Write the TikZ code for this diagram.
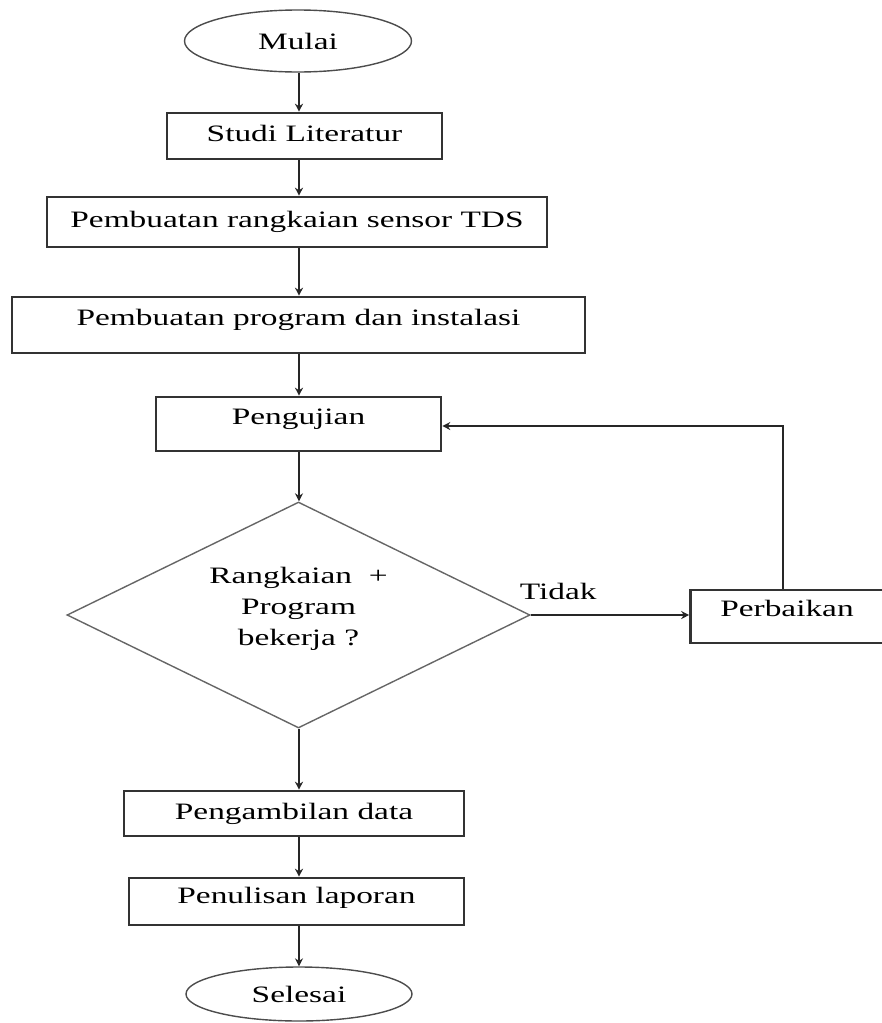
\documentclass[tikz,border=0pt]{standalone}
\usepackage{fontspec}
\setmainfont{Liberation Serif}[FakeStretch=1.42]
\usetikzlibrary{shapes.geometric,arrows.meta}

\begin{document}
\begin{tikzpicture}[
            x=1pt, y=-1pt,
            every node/.style={font=\fontsize{23.5}{31}\selectfont, inner sep=0pt},
            proses/.style={rectangle, draw=black!80, line width=2.6pt, text height=16pt, text depth=5pt},
            terminal/.style={ellipse, draw=black!70, line width=1.4pt},
            keputusan/.style={diamond, aspect=2, align=center, draw=black!60, line width=1.4pt},
            alur/.style={draw=black!85, line width=2.6pt, -{Stealth[length=8pt,width=8pt]}},
            ]
            \useasboundingbox (0,0) rectangle (882,1023);
            \coordinate (poros) at (299,0);
            \coordinate (balik) at (783,426);
            \node[terminal, minimum width=227pt, minimum height=62pt] (mulai) at (298,41) {Mulai};
            \node[proses, minimum width=275pt, minimum height=46pt] (studi) at (304.5,136) {Studi Literatur};
            \node[proses, minimum width=500pt, minimum height=50pt] (tds) at (297,222) {Pembuatan rangkaian sensor TDS};
            \node[proses, minimum width=573pt, minimum height=56pt, text depth=16pt] (program) at (298.5,325) {Pembuatan program dan instalasi};
            \node[proses, minimum width=285pt, minimum height=54pt, text depth=16pt] (uji) at (298.5,424) {Pengujian};
            \node[keputusan, minimum width=463pt, minimum height=226pt, text depth=18pt] (cek) at (298.5,615) {Rangkaian\ \ +\\Program\\bekerja ?};
            \node[proses, minimum width=193pt, minimum height=53pt, text depth=16pt] (perbaikan) at (787,616.5) {Perbaikan};
            \node[proses, minimum width=340pt, minimum height=45pt] (ambil) at (294,813.5) {Pengambilan data};
            \node[proses, minimum width=335pt, minimum height=47pt, text depth=12pt] (tulis) at (296.5,901.5) {Penulisan laporan};
            \node[terminal, minimum width=226pt, minimum height=54pt] (selesai) at (299,994) {Selesai};
            \draw[alur] (mulai.south -| poros) -- (studi.north -| poros);
            \draw[alur] (studi.south -| poros) -- (tds.north -| poros);
            \draw[alur] (tds.south -| poros) -- (program.north -| poros);
            \draw[alur] (program.south -| poros) -- (uji.north -| poros);
            \draw[alur] (uji.south -| poros) -- (cek.north -| poros);
            \draw[alur] (cek.south -| poros) -- (ambil.north -| poros);
            \draw[alur] (ambil.south -| poros) -- (tulis.north -| poros);
            \draw[alur] (tulis.south -| poros) -- (selesai.north -| poros);
            \draw[alur] (cek.east) -- node[above=14pt, pos=0.174] (tidak) {Tidak} (perbaikan.west |- cek.east);
            \draw[alur] (perbaikan.north -| balik) -- (balik) -- (uji.east |- balik);
\end{tikzpicture}
\end{document}
